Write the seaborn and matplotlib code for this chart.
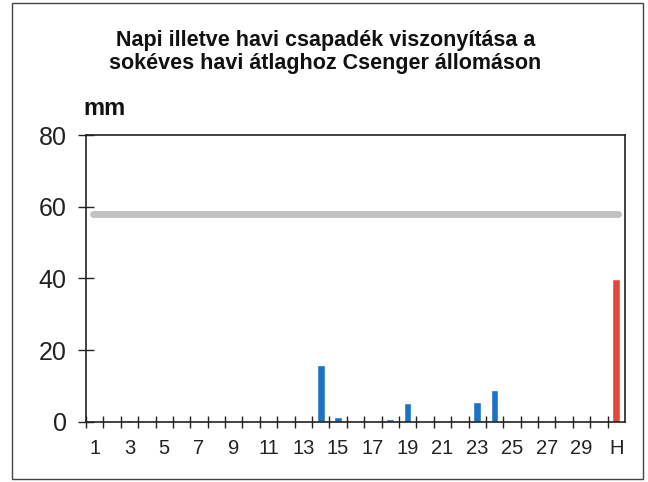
import matplotlib
matplotlib.use("Agg")
import matplotlib.pyplot as plt
import matplotlib.patches as patches
import seaborn as sns
import pandas as pd

# daily precipitation (mm) for days 1..30, then monthly total "H"
days = [str(d) for d in range(1, 31)] + ["H"]
rain = [0, 0, 0.5, 0, 0, 0, 0, 0, 0, 0,
        0, 0, 0, 16, 1.3, 0, 0, 0.8, 5.3, 0,
        0, 0, 5.5, 9, 0, 0, 0, 0, 0, 0,
        39.8]
long_term_avg = 58
tick_labels = [d if (d == "H" or int(d) % 2 == 1) else "" for d in days]

df = pd.DataFrame({"day": days, "mm": rain})
colors = ["#1f72c2"] * 30 + ["#e5453e"]

sns.set_style("white")
plt.rcParams["font.family"] = ["Liberation Sans", "DejaVu Sans"]

fig = plt.figure(figsize=(6.48, 4.82), dpi=100)
ax = fig.add_axes([0.1327, 0.1245, 0.8318, 0.5954])

sns.barplot(data=df, x="day", y="mm", hue="day", palette=colors,
            legend=False, width=0.44, ax=ax, saturation=1)

# long-term monthly average
ax.plot([-0.1, 30.1], [long_term_avg, long_term_avg], color="#c2c2c2",
        lw=5, solid_capstyle="round", zorder=1)

ax.set_xlim(-0.5, 30.5)
ax.set_ylim(0, 80)
ax.set_yticks([0, 20, 40, 60, 80])
ax.tick_params(axis="y", left=True, direction="inout", length=12, width=1,
               labelsize=18, pad=8, color="#222222", labelcolor="#222222")
ax.set_xticks(range(31))
ax.set_xticklabels(tick_labels)
ax.tick_params(axis="x", which="major", bottom=True, length=0, labelsize=14.5,
               pad=12, labelcolor="#222222")
ax.set_xticks([i - 0.5 for i in range(31)], minor=True)
ax.tick_params(axis="x", which="minor", bottom=True, direction="inout",
               length=9, width=1, color="#222222")
ax.set_xlabel("")
ax.set_ylabel("")
for s in ax.spines.values():
    s.set_color("#222222")
    s.set_linewidth(1.2)

fig.text(0.502, 0.917, "Napi illetve havi csapadék viszonyítása a",
         ha="center", va="center", fontsize=15.5, fontweight="bold", color="#111111")
fig.text(0.502, 0.869, "sokéves havi átlaghoz Csenger állomáson",
         ha="center", va="center", fontsize=15.5, fontweight="bold", color="#111111")
fig.text(0.128, 0.775, "mm", ha="left", va="center", fontsize=17,
         fontweight="bold", color="#111111")

fig.patches.append(patches.Rectangle((0.0185, 0.006), 0.974, 0.9876,
                                     transform=fig.transFigure, fill=False,
                                     edgecolor="#444444", lw=1))

fig.savefig("out.png", dpi=100)
